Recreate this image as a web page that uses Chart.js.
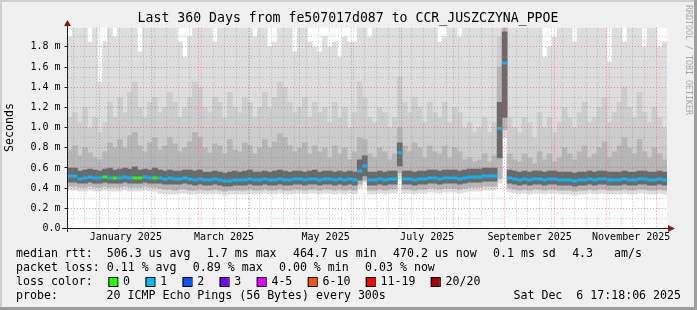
<!DOCTYPE html>
<html>
<head>
<meta charset="utf-8">
<script src="https://cdn.jsdelivr.net/npm/chart.js@4.4.1/dist/chart.umd.min.js"></script>
<style>
html, body { margin: 0; padding: 0; background: #f0f0f0; }
#wrap { width: 697px; height: 310px; }
</style>
</head>
<body>
<div id="wrap"><canvas id="chart" width="697" height="310"></canvas></div>
<script>
// 120 columns, 3 days each, from 19.5 days before 2025-01-01
let firstDay = -19.5;
let colDays = 3;

// median rtt (ms)
let median = [
  0.52,0.52,0.49,0.50,0.51,0.50,0.50,0.51,0.50,0.50,
  0.50,0.51,0.50,0.50,0.50,0.51,0.50,0.50,0.50,0.49,
  0.50,0.49,0.49,0.50,0.49,0.48,0.49,0.48,0.48,0.49,
  0.48,0.47,0.47,0.48,0.48,0.48,0.49,0.48,0.48,0.49,
  0.48,0.48,0.49,0.48,0.48,0.49,0.49,0.48,0.49,0.49,
  0.48,0.49,0.49,0.48,0.49,0.48,0.49,0.48,0.57,0.62,
  0.48,0.48,0.49,0.48,0.49,0.49,0.75,0.49,0.49,0.48,
  0.49,0.49,0.50,0.50,0.49,0.50,0.50,0.50,0.49,0.50,
  0.51,0.51,0.51,0.52,0.52,0.52,0.99,1.64,0.50,0.49,
  0.48,0.49,0.48,0.49,0.49,0.48,0.49,0.49,0.48,0.48,
  0.48,0.47,0.48,0.48,0.49,0.48,0.49,0.49,0.48,0.48,
  0.48,0.49,0.48,0.48,0.49,0.49,0.48,0.48,0.49,0.48
];

// loss bucket of the median line (0 = no loss, 1 = 1 of 20)
let loss = [
  1,1,1,1,1,1,1,0,1,0, 1,1,1,0,0,1,1,0,1,1,
  1,1,1,1,1,1,1,1,1,1, 1,1,1,1,1,1,1,1,1,1,
  1,1,1,1,1,1,1,1,1,1, 1,1,1,1,1,1,1,1,1,1,
  1,1,1,1,1,1,1,1,1,1, 1,1,1,1,1,1,1,1,1,1,
  1,1,1,1,1,1,1,1,1,1, 1,1,1,1,1,1,1,1,1,1,
  1,1,1,1,1,1,1,1,1,1, 1,1,1,1,1,1,1,1,1,1
];

// smoke: highest ping
let maxPing = [
  1.90,2.0,2.0,2.0,1.85,2.0,1.45,1.85,2.0,1.90,
  2.0,2.0,2.0,2.0,1.75,2.0,2.0,2.0,2.0,2.0,
  2.0,2.0,1.85,1.70,1.90,2.0,2.0,2.0,2.0,1.85,
  2.0,2.0,2.0,2.0,2.0,2.0,2.0,1.90,2.0,2.0,
  1.80,1.85,2.0,2.0,2.0,1.75,2.0,2.0,1.85,1.80,
  1.75,1.90,1.80,1.85,1.70,1.90,1.85,1.85,2.0,2.0,
  1.90,2.0,2.0,2.0,2.0,2.0,2.0,2.0,2.0,2.0,
  2.0,2.0,2.0,2.0,1.85,1.90,2.0,2.0,1.90,2.0,
  2.0,2.0,2.0,2.0,2.0,2.0,2.0,2.0,2.0,2.0,
  2.0,2.0,2.0,2.0,2.0,1.70,1.80,1.90,2.0,2.0,
  2.0,1.85,2.0,2.0,2.0,2.0,2.0,2.0,1.65,2.0,
  2.0,1.85,2.0,2.0,2.0,1.80,2.0,2.0,1.80,1.85
];

let hi1 = [
  1.10,1.15,1.05,1.20,1.00,1.10,0.95,1.05,1.25,1.10,
  1.30,1.15,1.35,1.45,1.20,1.10,1.25,1.30,1.15,1.20,
  1.35,1.25,1.10,1.20,1.30,1.45,1.40,1.20,1.15,1.30,
  1.25,1.10,1.35,1.20,1.15,1.30,1.25,1.10,1.20,1.35,
  1.20,1.30,1.45,1.40,1.25,1.15,1.20,1.30,1.10,1.25,
  1.15,1.20,1.05,1.25,1.10,1.20,1.00,1.15,1.45,1.30,
  1.10,1.05,1.20,1.15,1.00,1.10,1.50,1.25,1.15,1.30,
  1.20,1.05,1.25,1.15,1.10,1.25,1.05,1.20,1.15,1.00,
  1.05,0.95,1.00,1.10,0.95,1.05,1.90,2.00,1.10,1.00,
  0.95,1.10,1.05,0.90,1.15,1.00,1.10,0.95,1.05,1.20,
  1.10,1.00,1.15,1.25,1.05,1.10,1.20,1.30,1.05,1.15,
  1.25,1.40,1.20,1.10,1.35,1.15,1.05,1.20,1.10,1.00
];

let hi2 = [
  0.78,0.82,0.72,0.80,0.75,0.70,0.68,0.76,0.85,0.80,
  0.88,0.80,0.92,0.95,0.82,0.76,0.85,0.90,0.78,0.82,
  0.90,0.84,0.76,0.80,0.86,0.95,0.90,0.80,0.75,0.84,
  0.82,0.74,0.88,0.78,0.76,0.85,0.82,0.74,0.80,0.88,
  0.80,0.86,0.94,0.90,0.82,0.76,0.80,0.85,0.74,0.82,
  0.76,0.80,0.70,0.82,0.74,0.80,0.68,0.76,0.90,0.88,
  0.74,0.70,0.80,0.76,0.68,0.74,1.00,0.82,0.76,0.85,
  0.80,0.70,0.82,0.76,0.74,0.82,0.70,0.80,0.76,0.68,
  0.70,0.66,0.68,0.74,0.66,0.72,1.60,2.00,0.74,0.68,
  0.66,0.74,0.70,0.64,0.76,0.68,0.74,0.66,0.70,0.80,
  0.74,0.68,0.76,0.82,0.70,0.74,0.80,0.86,0.70,0.76,
  0.82,0.90,0.80,0.74,0.88,0.76,0.70,0.80,0.74,0.68
];

let hi3 = [
  0.60,0.60,0.57,0.58,0.59,0.58,0.57,0.59,0.60,0.58,
  0.59,0.60,0.59,0.61,0.58,0.59,0.58,0.60,0.58,0.57,
  0.58,0.57,0.57,0.58,0.58,0.57,0.58,0.56,0.56,0.57,
  0.56,0.55,0.56,0.57,0.56,0.57,0.58,0.56,0.56,0.57,
  0.56,0.57,0.58,0.57,0.56,0.57,0.57,0.56,0.57,0.58,
  0.56,0.57,0.57,0.56,0.57,0.56,0.57,0.56,0.68,0.72,
  0.56,0.56,0.57,0.56,0.57,0.57,0.85,0.57,0.57,0.56,
  0.57,0.57,0.58,0.58,0.57,0.58,0.58,0.58,0.57,0.58,
  0.59,0.59,0.59,0.60,0.60,0.60,1.25,1.95,0.58,0.57,
  0.56,0.57,0.56,0.57,0.57,0.56,0.57,0.57,0.56,0.56,
  0.56,0.55,0.56,0.56,0.57,0.56,0.57,0.57,0.56,0.56,
  0.56,0.57,0.56,0.56,0.57,0.57,0.56,0.56,0.57,0.56
];

let lo3 = [
  0.46,0.46,0.45,0.45,0.46,0.45,0.45,0.46,0.45,0.45,
  0.45,0.46,0.45,0.45,0.45,0.46,0.45,0.45,0.45,0.44,
  0.44,0.44,0.44,0.45,0.44,0.43,0.44,0.43,0.43,0.44,
  0.43,0.42,0.42,0.43,0.43,0.43,0.44,0.43,0.43,0.44,
  0.43,0.43,0.44,0.43,0.43,0.44,0.44,0.43,0.44,0.44,
  0.43,0.44,0.44,0.43,0.44,0.43,0.44,0.43,0.48,0.52,
  0.43,0.43,0.44,0.43,0.44,0.44,0.62,0.44,0.44,0.43,
  0.44,0.44,0.45,0.45,0.44,0.45,0.45,0.45,0.44,0.45,
  0.46,0.46,0.46,0.47,0.47,0.47,0.70,1.10,0.45,0.44,
  0.43,0.44,0.43,0.44,0.44,0.43,0.44,0.44,0.43,0.43,
  0.43,0.42,0.43,0.43,0.44,0.43,0.44,0.44,0.43,0.43,
  0.43,0.44,0.43,0.43,0.44,0.44,0.43,0.43,0.44,0.43
];

let lo2 = [
  0.42,0.42,0.41,0.41,0.42,0.41,0.41,0.42,0.41,0.41,
  0.41,0.42,0.41,0.41,0.41,0.42,0.41,0.41,0.40,0.39,
  0.39,0.38,0.39,0.39,0.38,0.38,0.39,0.38,0.38,0.39,
  0.38,0.37,0.38,0.38,0.38,0.38,0.39,0.38,0.38,0.39,
  0.38,0.38,0.39,0.38,0.38,0.39,0.39,0.38,0.39,0.39,
  0.38,0.39,0.39,0.38,0.39,0.38,0.39,0.38,0.44,0.48,
  0.38,0.38,0.39,0.38,0.39,0.39,0.55,0.39,0.39,0.38,
  0.39,0.39,0.40,0.40,0.39,0.40,0.40,0.40,0.39,0.40,
  0.41,0.41,0.41,0.42,0.42,0.42,0.50,0.98,0.40,0.39,
  0.38,0.39,0.38,0.39,0.39,0.38,0.39,0.39,0.38,0.38,
  0.38,0.37,0.38,0.38,0.39,0.38,0.39,0.39,0.38,0.38,
  0.38,0.39,0.38,0.38,0.39,0.39,0.38,0.38,0.39,0.38
];

// smoke: lowest ping
let lo1 = [
  0.38,0.38,0.37,0.37,0.38,0.37,0.37,0.38,0.37,0.37,
  0.37,0.38,0.37,0.37,0.37,0.38,0.37,0.37,0.35,0.34,
  0.34,0.34,0.35,0.35,0.34,0.34,0.35,0.34,0.34,0.35,
  0.34,0.33,0.34,0.34,0.34,0.34,0.35,0.34,0.34,0.35,
  0.34,0.34,0.35,0.34,0.34,0.35,0.35,0.34,0.35,0.35,
  0.34,0.35,0.35,0.34,0.35,0.34,0.35,0.34,0.40,0.46,
  0.34,0.34,0.35,0.34,0.35,0.35,0.50,0.35,0.35,0.34,
  0.35,0.35,0.36,0.36,0.35,0.36,0.36,0.36,0.35,0.36,
  0.37,0.37,0.37,0.38,0.38,0.38,0.45,0.90,0.36,0.35,
  0.34,0.35,0.34,0.35,0.35,0.34,0.35,0.35,0.34,0.34,
  0.34,0.33,0.34,0.34,0.35,0.34,0.35,0.35,0.34,0.34,
  0.34,0.35,0.34,0.34,0.35,0.35,0.34,0.34,0.35,0.34
];

let xLabels = ['January 2025', 'March 2025', 'May 2025', 'July 2025', 'September 2025', 'November 2025'];
let xLabelMonths = [0, 2, 4, 6, 8, 10];
let lossNames = ['0', '1', '2', '3', '4-5', '6-10', '11-19', '20/20'];
let lossColors = ['#26ff00', '#00b8ff', '#0059ff', '#7e00ff', '#e000ff', '#ff5500', '#ff0000', '#a10000'];

let MONO = '"DejaVu Sans Mono", monospace';
let RED = 'rgba(222,80,80,0.55)';
let GRAY = 'rgba(143,143,143,0.5)';

let lastDay = firstDay + colDays * median.length;
let dayOf = (y, m, d) => (Date.UTC(y, m, d) - Date.UTC(2025, 0, 1)) / 864e5;
let monthStarts = [];
for (let m = 0; m < 12; m++) monthStarts.push(dayOf(2025, m, 1));
let labelDays = xLabelMonths.map(m => (dayOf(2025, m, 1) + dayOf(2025, m + 1, 1)) / 2);
let gridDays = monthStarts.slice();
for (let d = dayOf(2024, 11, 16); d < lastDay; d += 7) {
    if (!monthStarts.includes(d)) gridDays.push(d);
}
gridDays.sort((a, b) => a - b);
let yTicks = [];
for (let k = 0; k <= 19; k++) yTicks.push(k / 10);

function band(lo, hi) {
    return hi.map((v, i) => ({ x: firstDay + colDays * i + colDays / 2, y: [lo[i], v] }));
}

// median drawn as one flat piece per column, broken between columns
let medianPoints = [];
median.forEach((v, i) => {
    let x0 = firstDay + colDays * i;
    medianPoints.push({ x: x0, y: v }, { x: x0 + colDays, y: v }, { x: x0 + colDays, y: null });
});

let smokeStyle = { type: 'bar', barThickness: 5, grouped: false, borderWidth: 0, xAxisID: 'x', yAxisID: 'y' };

let frame = {
    id: 'frame',
    beforeDraw(chart) {
        let ctx = chart.ctx, a = chart.chartArea;
        ctx.save();
        ctx.fillStyle = '#f0f0f0';
        ctx.fillRect(0, 0, 697, 310);
        ctx.fillStyle = '#cfcfcf';
        ctx.fillRect(0, 0, 697, 2);
        ctx.fillRect(0, 0, 2, 310);
        ctx.fillStyle = '#9e9e9e';
        ctx.fillRect(0, 307, 697, 3);
        ctx.fillRect(694, 0, 3, 310);
        ctx.fillStyle = '#ffffff';
        ctx.fillRect(a.left, a.top, a.right - a.left, a.bottom - a.top);
        ctx.restore();
    },
    afterDraw(chart) {
        let ctx = chart.ctx;
        ctx.save();
        // axes
        ctx.strokeStyle = '#1f1f1f';
        ctx.lineWidth = 1;
        ctx.beginPath();
        ctx.moveTo(62, 228.5); ctx.lineTo(669, 228.5);
        ctx.moveTo(67.5, 232); ctx.lineTo(67.5, 24);
        ctx.stroke();
        ctx.fillStyle = '#7f1f1f';
        ctx.beginPath();
        ctx.moveTo(675, 228.5); ctx.lineTo(668, 225); ctx.lineTo(668, 232); ctx.closePath();
        ctx.moveTo(67.5, 20); ctx.lineTo(64, 26); ctx.lineTo(71, 26); ctx.closePath();
        ctx.fill();

        ctx.fillStyle = '#000';
        ctx.textBaseline = 'middle';
        // title
        ctx.font = '13.2px ' + MONO;
        ctx.textAlign = 'center';
        ctx.fillText('Last 360 Days from fe507017d087 to CCR_JUSZCZYNA_PPOE', 348, 19);
        // y title
        ctx.save();
        ctx.translate(10, 127.5);
        ctx.rotate(-Math.PI / 2);
        ctx.font = '11.6px ' + MONO;
        ctx.fillText('Seconds', 0, 0);
        ctx.restore();
        // watermark
        ctx.save();
        ctx.translate(688, 5);
        ctx.rotate(Math.PI / 2);
        ctx.font = '8.3px ' + MONO;
        ctx.textAlign = 'left';
        ctx.fillStyle = '#a8a8a8';
        ctx.fillText('RRDTOOL / TOBI OETIKER', 0, 0);
        ctx.restore();

        // legend
        ctx.font = '11.6px ' + MONO;
        ctx.textAlign = 'left';
        let gap = 16.3;
        let row = (items, y) => {
            let x = 16;
            items.forEach(t => {
                ctx.fillText(t, x, y);
                x += ctx.measureText(t).width + gap;
            });
        };
        row(['median rtt:  506.3 us avg', '1.7 ms max', '464.7 us min', '470.2 us now', '0.1 ms sd', '4.3   am/s'], 254.3);
        row(['packet loss: 0.11 % avg', '0.89 % max', '0.00 % min', '0.03 % now'], 268.3);
        ctx.fillText('loss color:', 16, 282.3);
        let bx = 16 + ctx.measureText('loss color:').width + 15.6;
        lossNames.forEach((n, i) => {
            ctx.fillStyle = lossColors[i];
            ctx.fillRect(bx, 277.5, 9, 9);
            ctx.strokeStyle = '#000';
            ctx.strokeRect(bx + 0.5, 277.5, 9, 9);
            ctx.fillStyle = '#000';
            ctx.fillText(n, bx + 14.7, 282.3);
            bx += 14.7 + ctx.measureText(n).width + 15.4;
        });
        ctx.fillText('probe:', 16, 296);
        ctx.fillText('20 ICMP Echo Pings (56 Bytes) every 300s', 106.6, 296);
        ctx.textAlign = 'right';
        ctx.fillText('Sat Dec  6 17:18:06 2025', 681, 296);
        ctx.restore();
    }
};

new Chart(document.getElementById('chart').getContext('2d'), {
    type: 'bar',
    data: {
        datasets: [
            {
                type: 'line', label: 'median', data: medianPoints, order: 0,
                spanGaps: false, borderWidth: 3, borderCapStyle: 'butt', pointRadius: 0, borderColor: lossColors[1],
                segment: { borderColor: c => lossColors[loss[Math.floor(c.p0DataIndex / 3)]] },
                xAxisID: 'x', yAxisID: 'y'
            },
            Object.assign({ label: 'core', data: band(lo3, hi3), backgroundColor: '#6a6a6a', order: 1 }, smokeStyle),
            Object.assign({ label: 'mid', data: band(lo2, hi2), backgroundColor: '#b6b6b6', order: 2 }, smokeStyle),
            Object.assign({ label: 'upper', data: band(lo2, hi1), backgroundColor: '#cdcdcd', order: 3 }, smokeStyle),
            Object.assign({ label: 'range', data: band(lo1, maxPing), backgroundColor: '#dddddd', order: 4 }, smokeStyle)
        ]
    },
    options: {
        responsive: false,
        animation: false,
        layout: { padding: { left: 0, right: 30, top: 27.7, bottom: 61.5 } },
        plugins: { legend: { display: false }, title: { display: false }, tooltip: { enabled: false } },
        scales: {
            x: {
                type: 'linear', min: firstDay, max: lastDay, offset: false,
                afterBuildTicks: s => { s.ticks = gridDays.map(v => ({ value: v })); },
                afterFit: s => { s.height = 0; },
                ticks: { display: false },
                grid: {
                    offset: false, z: 1, drawTicks: false, lineWidth: 1,
                    color: c => monthStarts.includes(c.tick.value) ? RED : GRAY
                },
                border: { display: false, dash: [1, 2] }
            },
            x2: {
                type: 'linear', position: 'bottom', min: firstDay, max: lastDay, offset: false,
                afterBuildTicks: s => { s.ticks = labelDays.map(v => ({ value: v })); },
                afterFit: s => { s.height = 20; },
                ticks: {
                    callback: (v, i) => xLabels[i], autoSkip: false, maxRotation: 0,
                    padding: 3, color: '#000', font: { family: MONO, size: 10 }
                },
                grid: { display: false, drawTicks: false, offset: false },
                border: { display: false }
            },
            y: {
                min: 0, max: 1.99,
                afterBuildTicks: s => { s.ticks = yTicks.map(v => ({ value: v })); },
                afterFit: s => { s.width = 67.5; },
                ticks: {
                    autoSkip: false, padding: 4, color: '#000', font: { family: MONO, size: 10 },
                    callback: v => {
                        let k = Math.round(v * 10);
                        if (k % 2) return '';
                        return k === 0 ? '0.0' : (k / 10).toFixed(1) + ' m';
                    }
                },
                grid: {
                    z: 1, lineWidth: 1, tickLength: 3,
                    color: c => Math.round(c.tick.value * 10) % 2 ? GRAY : RED,
                    tickColor: c => Math.round(c.tick.value * 10) % 2 ? 'rgba(0,0,0,0)' : '#1f1f1f'
                },
                border: { display: false, dash: [1, 2] }
            }
        }
    },
    plugins: [frame]
});
</script>
</body>
</html>
